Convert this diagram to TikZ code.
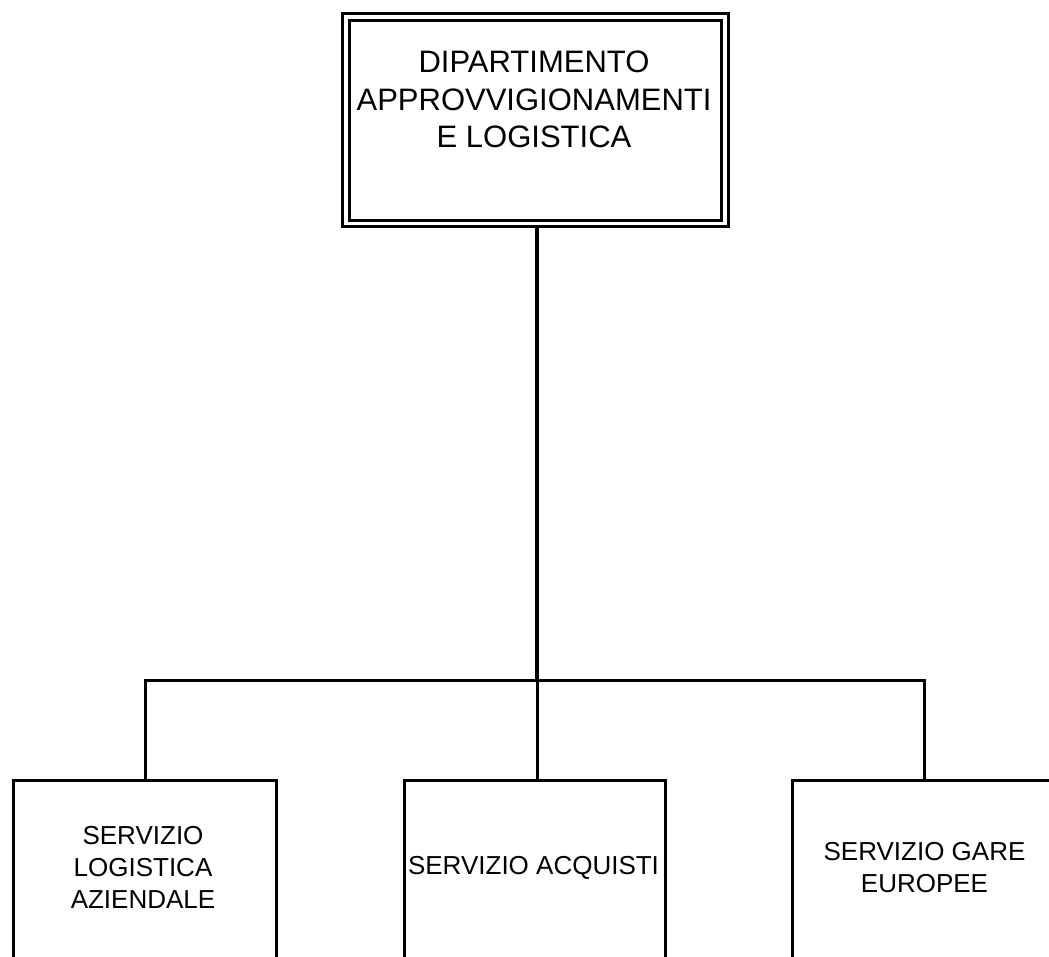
\documentclass[tikz,border=0pt]{standalone}
\usepackage{fontspec}
\setmainfont{Liberation Sans}
\usetikzlibrary{backgrounds}
\tikzset{
  headbox/.style={draw=black, line width=3pt, double=white, double distance=3.5pt, fill=white, inner sep=0pt, minimum width=379pt, minimum height=206.5pt},
  unitbox/.style={draw=black, line width=3pt, fill=white, inner sep=0pt, minimum width=263pt, minimum height=180pt},
  headtext/.style={inner sep=0pt, align=center, font=\fontsize{31pt}{37.5pt}\selectfont},
  unittext/.style={inner sep=0pt, align=center, font=\fontsize{26pt}{32pt}\selectfont},
  conn/.style={draw=black, line width=3pt, line join=miter},
  trunk/.style={draw=black, line width=4pt}
}
\begin{document}
\begin{tikzpicture}[x=1pt, y=-1pt]
\useasboundingbox (0,0) rectangle (1049,956);

\node[headbox] (top) at (535.5,120.25) {};
\node[headtext] (toptext) at (534,99.5) {DIPARTIMENTO\\APPROVVIGIONAMENTI\\E LOGISTICA};

\node[unitbox] (b1) at (145,870) {};
\node[unitbox, minimum width=261pt] (b2) at (535,870) {};
\node[unitbox, minimum width=264pt] (b3) at (924.5,870) {};

\node[unittext] (t1) at (143,867.5) {SERVIZIO\\LOGISTICA\\AZIENDALE};
\node[unittext] (t2) at (533.5,867.5) {SERVIZIO ACQUISTI};
\node[unittext] (t3) at (924.5,867.5) {SERVIZIO GARE\\EUROPEE};

\coordinate (bus) at (537,680);

\begin{scope}[on background layer]
\fill[white] (0,0) rectangle (1049,956);
\draw[trunk] (top.south -| bus) -- (bus);
\draw[conn] (b1.north) |- (bus) -| (b3.north);
\draw[conn] (bus) -- (bus |- b2.north);
\end{scope}
\end{tikzpicture}
\end{document}
